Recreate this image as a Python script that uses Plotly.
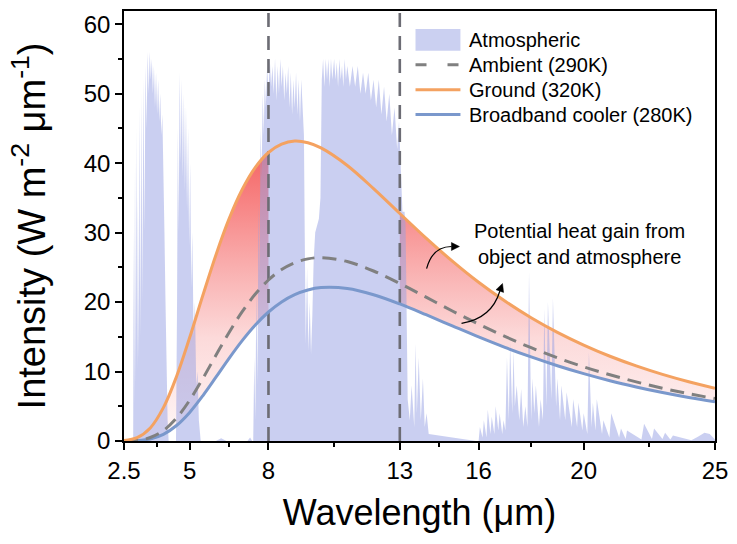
import plotly.graph_objects as go

# ---------------- data ----------------
wl_curve = [2.5, 3, 3.5, 4, 4.5, 5, 5.5, 6, 6.5, 7, 7.5, 8, 8.5, 9, 9.5, 10,
            11, 12, 13, 14, 15, 16, 17, 18, 19, 20, 21, 22, 23, 24, 25]
ground_320 = [0.06, 0.48, 1.88, 4.80, 9.28, 14.89, 20.94, 26.79, 31.97, 36.20, 39.38,
              41.53, 42.74, 43.17, 42.93, 42.19, 39.66, 36.33, 32.75, 29.21, 25.89,
              22.85, 20.15, 17.75, 15.64, 13.81, 12.20, 10.81, 9.59, 8.53, 7.60]
ambient_290 = [0.01, 0.10, 0.50, 1.50, 3.30, 5.87, 8.99, 12.34, 15.62, 18.61, 21.15,
               23.18, 24.68, 25.67, 26.22, 26.39, 25.83, 24.47, 22.68, 20.71, 18.72,
               16.82, 15.05, 13.43, 11.98, 10.68, 9.53, 8.51, 7.60, 6.81, 6.11]
cooler_280 = [0.00, 0.06, 0.30, 0.96, 2.23, 4.12, 6.51, 9.18, 11.90, 14.45, 16.70,
              18.57, 20.02, 21.07, 21.74, 22.08, 21.95, 21.06, 19.73, 18.18, 16.57,
              14.98, 13.48, 12.10, 10.84, 9.70, 8.68, 7.78, 6.97, 6.26, 5.63]

atm_wl = [2.5, 2.83, 2.85, 2.87, 2.89, 2.92, 2.94, 2.97, 3.0, 3.03, 3.06, 3.1, 3.13, 3.17,
          3.2, 3.24, 3.28, 3.32, 3.36, 3.40, 3.44, 3.48, 3.52, 3.56, 3.60, 3.64, 3.68,
          3.72, 3.76, 3.80, 3.84, 3.88, 3.92, 3.96, 4.00, 4.04, 4.08, 4.12, 4.16, 4.2,
          4.48, 4.52, 4.55, 4.58, 4.62, 4.66, 4.70, 4.74, 4.78, 4.82, 4.86, 4.90, 4.94,
          4.98, 5.02, 5.06, 5.10, 5.15, 5.2, 5.25, 5.3, 5.35, 5.42,
          6.0, 6.2, 6.4, 7.2, 7.3, 7.38,
          7.42, 7.46, 7.50, 7.54, 7.58, 7.62, 7.66, 7.70, 7.74, 7.78, 7.82, 7.86, 7.90,
          7.95, 8.00, 8.05, 8.10, 8.15, 8.20, 8.25, 8.30, 8.35, 8.40, 8.45, 8.50, 8.55,
          8.60, 8.65, 8.70, 8.75, 8.80, 8.85, 8.90, 8.95, 9.00, 9.05, 9.10, 9.15, 9.20,
          9.25, 9.30, 9.35, 9.38, 9.42, 9.47, 9.52, 9.57, 9.62, 9.67, 9.72, 9.78, 9.85,
          9.92, 9.98, 10.03, 10.08, 10.13, 10.18, 10.23, 10.28, 10.33, 10.38, 10.43,
          10.5, 10.55, 10.6, 10.65, 10.7, 10.75, 10.8, 10.85, 10.9, 10.95, 11.0, 11.1,
          11.2, 11.3, 11.4, 11.5, 11.6, 11.7, 11.8, 11.9, 12.0, 12.1, 12.2, 12.3, 12.4,
          12.5, 12.6, 12.7, 12.8, 12.9, 12.97, 13.02, 13.1, 13.18, 13.22, 13.3, 13.38,
          13.45, 13.55, 13.6, 13.65, 13.72, 13.8, 13.88, 13.95, 14.02, 14.1,
          15.9, 16.0, 16.05, 16.15, 16.2, 16.3, 16.35, 16.45, 16.5, 16.6, 16.65, 16.75,
          16.8, 16.9, 16.95, 17.02, 17.08, 17.15, 17.2, 17.28, 17.33, 17.38, 17.45,
          17.55, 17.62, 17.7, 17.78, 17.86, 17.92, 18.0, 18.05, 18.12, 18.18, 18.3,
          18.36, 18.45, 18.5, 18.58, 18.64, 18.77, 18.83, 18.95, 19.0, 19.1, 19.15,
          19.3, 19.35, 19.55, 19.6, 19.75, 19.8, 19.95, 20.0, 20.14, 20.2, 20.3, 20.35,
          20.45, 20.5, 20.7, 20.75, 20.98, 21.05, 21.35, 21.42, 21.6, 21.65, 22.2, 22.3,
          22.6, 22.68, 23.0, 23.1, 23.3, 23.4, 24.1, 24.35, 24.6, 24.8, 25.0]
atm_val = [0, 0, 0, 30, 5, 40, 8, 45, 10, 35, 12, 48, 15, 50,
           20, 52, 30, 54, 45, 56, 50, 56, 52, 55, 50, 54, 48,
           53, 47, 52, 46, 50, 44, 47, 40, 30, 20, 10, 3, 0,
           0, 20, 45, 30, 53, 40, 52, 38, 50, 36, 48, 33, 45,
           28, 40, 22, 30, 15, 20, 8, 10, 3, 0,
           0, 0.4, 0, 0, 0.5, 0,
           0, 12, 3, 22, 8, 34, 24, 45, 38, 50, 44, 52, 48,
           54, 50, 55, 51, 54, 50, 55, 49, 54, 50, 55, 51, 54,
           49, 53, 50, 54, 48, 53, 47, 52, 48, 53, 47, 52, 46,
           52, 48, 44, 30, 14, 25, 13, 20, 12.5, 18, 26, 30, 31,
           32, 35, 52, 55, 51, 55, 52, 55, 51, 55, 52, 55,
           52, 54.5, 51, 55, 52, 54, 51, 55, 52, 54, 51, 54,
           51, 54, 50, 53, 50, 53, 49, 52, 48, 52, 47, 51, 46,
           50, 44, 48, 42, 46, 40, 33, 33, 31, 6, 3, 8,
           2, 14, 4, 12, 3, 9, 2, 4, 1, 0,
           0, 2, 0.5, 3, 0.5, 4.5, 1, 3.5, 1, 5, 1.5, 4,
           1, 3, 1.5, 12, 3, 14, 4, 13, 5, 8, 3,
           7.5, 2, 5, 2, 24.3, 3, 9, 4, 8, 2, 6,
           3, 19, 5, 20, 6, 20.5, 5, 9, 3, 8, 3,
           7, 2, 6, 2, 5.5, 1.5, 4, 1, 12.8, 2, 5.5, 1.5,
           6, 1, 3, 0.5, 4, 0.5, 1.8, 0.3, 1.5, 0.2, 2.5, 0.3,
           1.8, 0.3, 1.2, 0.2, 0.8, 0.1, 0.6, 1.2, 1.0, 0.2, 0]

window_edges = [8, 13]
x_ticks = [2.5, 5, 8, 13, 16, 20, 25]
x_minor = [3.75, 6.5, 10.5, 14.5, 18, 22.5]
y_max = 61.9
legend_names = ["Atmospheric", "Ambient (290K)", "Ground (320K)", "Broadband cooler (280K)"]

# ---------------- styles ----------------
ORANGE = "rgb(244,162,97)"
BLUE = "rgb(122,152,204)"
GRAY = "rgb(128,128,128)"
ATM = "rgba(150,160,228,0.5)"
ATM_SOLID = "rgb(203,208,241)"
FONT = "Liberation Sans, Arial, sans-serif"
grad = dict(type="vertical", start=0, stop=43,
            colorscale=[[0, "rgb(255,248,248)"], [0.35, "rgb(252,218,218)"],
                        [0.6, "rgb(249,172,172)"], [0.8, "rgb(247,132,132)"],
                        [1, "rgb(244,96,96)"]])

fig = go.Figure()

# red gradient fill between ground and cooler outside the 8-13 window
for sel in (lambda w: w <= window_edges[0], lambda w: w >= window_edges[1]):
    xs = [w for w in wl_curve if sel(w)]
    lo = [c for w, c in zip(wl_curve, cooler_280) if sel(w)]
    hi = [g for w, g in zip(wl_curve, ground_320) if sel(w)]
    fig.add_trace(go.Scatter(x=xs, y=lo, mode="lines", line=dict(width=0, shape="spline"),
                             showlegend=False, hoverinfo="skip"))
    fig.add_trace(go.Scatter(x=xs, y=hi, mode="lines", line=dict(width=0, shape="spline"),
                             fill="tonexty", fillgradient=grad,
                             showlegend=False, hoverinfo="skip"))

# atmospheric spectrum
fig.add_trace(go.Scatter(x=atm_wl, y=atm_val, mode="lines", fill="tozeroy",
                         fillcolor=ATM, line=dict(width=0), name=legend_names[0],
                         showlegend=False, hoverinfo="skip"))

# window edge dashed lines
for xe in window_edges:
    fig.add_trace(go.Scatter(x=[xe, xe], y=[0, y_max], mode="lines", showlegend=False,
                             line=dict(color="rgb(108,108,116)", width=2.6, dash="14px,9px"),
                             hoverinfo="skip"))

fig.add_trace(go.Scatter(x=wl_curve, y=cooler_280, mode="lines", name=legend_names[3],
                         line=dict(color=BLUE, width=3, shape="spline"), showlegend=False))
fig.add_trace(go.Scatter(x=wl_curve, y=ambient_290, mode="lines", name=legend_names[1],
                         line=dict(color=GRAY, width=3, shape="spline", dash="14px,8px"),
                         showlegend=False))
fig.add_trace(go.Scatter(x=wl_curve, y=ground_320, mode="lines", name=legend_names[2],
                         line=dict(color=ORANGE, width=3, shape="spline"), showlegend=False))

# ---------------- legend (drawn in paper coordinates) ----------------
PX0, PW, PY0, PH = 124, 592, 441, 432   # plot area in pixels


def px(xp):
    return (xp - PX0) / PW


def py(yp):
    return (PY0 - yp) / PH


rows = [38, 63, 88, 113]
sym_x0, sym_x1, txt_x = 416, 461, 468
fig.add_shape(type="rect", xref="paper", yref="paper", x0=px(sym_x0), x1=px(sym_x1),
              y0=py(rows[0] + 11), y1=py(rows[0] - 11), fillcolor=ATM_SOLID, line_width=0)
sym_styles = [None, dict(color=GRAY, width=3, dash="11px,21px"),
              dict(color=ORANGE, width=3), dict(color=BLUE, width=3)]
for r, st in zip(rows[1:], sym_styles[1:]):
    fig.add_shape(type="line", xref="paper", yref="paper", x0=px(sym_x0), x1=px(sym_x1),
                  y0=py(r), y1=py(r), line=st)
for r, name in zip(rows, legend_names):
    fig.add_annotation(x=px(txt_x), y=py(r), xref="paper", yref="paper", text=name,
                       showarrow=False, xanchor="left", yanchor="middle",
                       font=dict(family=FONT, size=20, color="black"))

# curved arrows with filled heads
fig.add_shape(type="path", xref="x", yref="y",
              path="M 14.02,24.8 Q 14.24,28.0 14.97,28.0",
              line=dict(color="black", width=1.2))
fig.add_shape(type="path", xref="x", yref="y",
              path="M 15.27,28.0 L 14.966,28.574 L 14.966,27.426 Z",
              fillcolor="black", line=dict(color="black", width=0.5))
fig.add_shape(type="path", xref="x", yref="y",
              path="M 15.35,16.93 Q 16.5,17.65 16.81,21.59",
              line=dict(color="black", width=1.2))
fig.add_shape(type="path", xref="x", yref="y",
              path="M 16.91,22.67 L 16.665,21.781 L 16.951,21.395 Z",
              fillcolor="black", line=dict(color="black", width=0.5))
fig.add_annotation(x=19.83, y=28.3, xref="x", yref="y", showarrow=False,
                   text="Potential heat gain from<br>object and atmosphere",
                   font=dict(family=FONT, size=20, color="black"), align="center")

fig.update_layout(
    width=737, height=544,
    margin=dict(l=124, r=21, t=9, b=103),
    paper_bgcolor="white", plot_bgcolor="white",
    font=dict(family=FONT, color="black"),
    showlegend=False,
    xaxis=dict(range=[2.5, 25], tickmode="array", tickvals=x_ticks,
               ticktext=[str(t) for t in x_ticks],
               showline=True, linecolor="black", linewidth=1.5, mirror=True,
               ticks="outside", ticklen=7, tickwidth=1.5, tickcolor="black",
               tickfont=dict(size=24), showgrid=False, zeroline=False,
               minor=dict(tickmode="array", tickvals=x_minor, ticks="outside",
                          ticklen=4, tickwidth=1.5, tickcolor="black"),
               title=dict(text="Wavelength (μm)", font=dict(size=36), standoff=17)),
    yaxis=dict(range=[0, y_max], tickmode="linear", tick0=0, dtick=10,
               showline=True, linecolor="black", linewidth=1.5, mirror=True,
               ticks="outside", ticklen=7, tickwidth=1.5, tickcolor="black",
               tickfont=dict(size=24), showgrid=False, zeroline=False,
               minor=dict(dtick=5, ticks="outside", ticklen=4, tickwidth=1.5,
                          tickcolor="black"),
               title=dict(text="Intensity (W m<sup>-2</sup> μm<sup>-1</sup>)",
                          font=dict(size=38), standoff=26)),
)

fig.write_html("out.html")
